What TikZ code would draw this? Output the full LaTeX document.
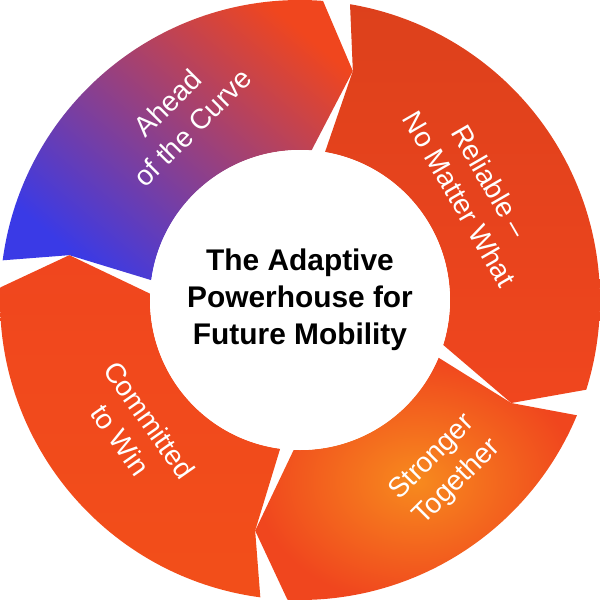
\documentclass[tikz,border=0pt]{standalone}
\usepackage{fontspec}
\setmainfont{Liberation Sans}
\usetikzlibrary{positioning}
\definecolor{segred}{HTML}{F0461E}
\definecolor{segorange}{HTML}{F78A1E}
\definecolor{segblue}{HTML}{3A3AE6}
\tikzset{
  seglabel/.style={text=white,align=center,font=\fontsize{16}{20}\selectfont},
  hubtext/.style={align=center,font=\bfseries\fontsize{17}{21}\selectfont}
}
% ring segment: start angle, end angle, options
\newcommand{\ringseg}[3]{%
  \path[#3] ({#1-2.6}:6) arc[start angle={#1-2.6},end angle={#2+2.6},radius=6]
    -- ({#2-6}:4.7) -- ({#2+2.6}:3) arc[start angle={#2+2.6},end angle={#1-2.6},radius=3]
    -- ({#1-6}:4.7) -- cycle;}
\begin{document}
\begin{tikzpicture}
  \useasboundingbox (-6,-6) rectangle (6,6);

  \ringseg{175}{83}{left color=segred,right color=segblue,shading angle=-40}
  \ringseg{83}{-20}{left color=segred!92!black,right color=segred,shading angle=0}
  \ringseg{-20}{-95}{inner color=segorange,outer color=segred}
  \ringseg{-95}{-185}{top color=segred,bottom color=segred!85!orange}

  \node[circle,fill=white,minimum size=6cm] (hub) at (0,0) {};
  \node[hubtext] (title) at (hub) {The Adaptive\\Powerhouse for\\Future Mobility};

  \node[seglabel,rotate=45] (ahead) at (-2.4,3.7) {Ahead\\of the Curve};
  \node[seglabel,rotate=-60] (reliable) at (3.5,2.2) {Reliable –\\No Matter What};
  \node[seglabel,rotate=45] (stronger) at (2.9,-3.4) {Stronger\\Together};
  \node[seglabel,rotate=-55] (committed) at (-3.3,-2.6) {Committed\\to Win};
\end{tikzpicture}
\end{document}
